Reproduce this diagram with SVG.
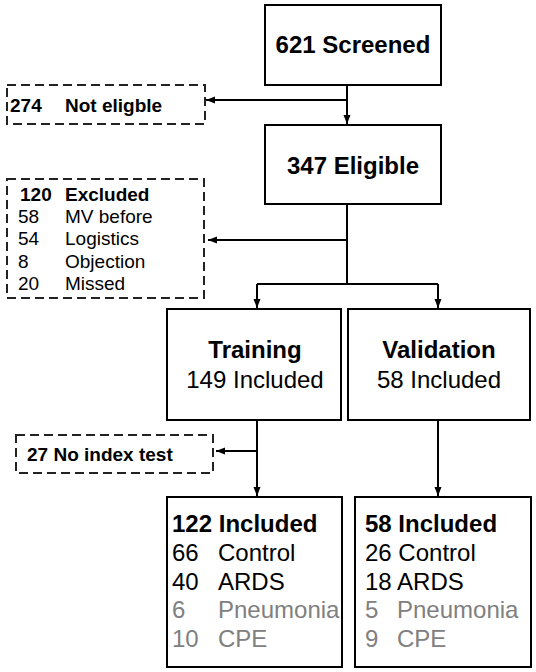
<svg xmlns="http://www.w3.org/2000/svg" width="536" height="672" viewBox="0 0 536 672">
<style>
.box{fill:#fff;stroke:#000;stroke-width:2}
.dbox{fill:#fff;stroke:#222;stroke-width:2;stroke-dasharray:9,5}
.con{fill:none;stroke:#000;stroke-width:2}
text{font-family:"Liberation Sans",Arial,sans-serif;fill:#000}
.t24{font-size:24px}
.t19{font-size:19px}
.b{font-weight:bold}
.g{fill:#808080}
.c{text-anchor:middle}
</style>
<defs>
<marker id="ah" markerUnits="userSpaceOnUse" markerWidth="10" markerHeight="8" refX="9" refY="3.5" orient="auto">
<path d="M0,0 L9,3.5 L0,7 z" fill="#000"/>
</marker>
</defs>
<rect width="536" height="672" fill="#fff"/>
<g id="connectors">
<path class="con" d="M347,85 V124" marker-end="url(#ah)"/>
<path class="con" d="M347,100 H206" marker-end="url(#ah)"/>
<path class="con" d="M347,204 V284"/>
<path class="con" d="M347,240 H208" marker-end="url(#ah)"/>
<path class="con" d="M257,284 H438"/>
<path class="con" d="M257,284 V308" marker-end="url(#ah)"/>
<path class="con" d="M438,284 V308" marker-end="url(#ah)"/>
<path class="con" d="M257,420 V496" marker-end="url(#ah)"/>
<path class="con" d="M257,451 H216" marker-end="url(#ah)"/>
<path class="con" d="M438,420 V496" marker-end="url(#ah)"/>
</g>
<g id="screened">
<rect class="box" x="265" y="5" width="176" height="80"/>
<text class="t24 b c" x="353" y="53">621 Screened</text>
</g>
<g id="not-eligible">
<rect class="dbox" x="7" y="85" width="198" height="39"/>
<text class="t19 b" x="10" y="112">274</text>
<text class="t19 b" x="65" y="112">Not eligble</text>
</g>
<g id="eligible">
<rect class="box" x="265" y="125" width="176" height="79"/>
<text class="t24 b c" x="353" y="174">347 Eligible</text>
</g>
<g id="excluded">
<rect class="dbox" x="7" y="179" width="197" height="119"/>
<text class="t19 b" x="20" y="201">120</text>
<text class="t19 b" x="65" y="201">Excluded</text>
<text class="t19" x="18" y="223">58</text>
<text class="t19" x="65" y="223">MV before</text>
<text class="t19" x="18" y="245">54</text>
<text class="t19" x="65" y="245">Logistics</text>
<text class="t19" x="18" y="268">8</text>
<text class="t19" x="65" y="268">Objection</text>
<text class="t19" x="18" y="290">20</text>
<text class="t19" x="65" y="290">Missed</text>
</g>
<g id="training">
<rect class="box" x="167" y="309" width="174" height="111"/>
<text class="t24 b c" x="255" y="358">Training</text>
<text class="t24 c" x="255" y="388">149 Included</text>
</g>
<g id="validation">
<rect class="box" x="348" y="309" width="182" height="111"/>
<text class="t24 b c" x="439" y="358">Validation</text>
<text class="t24 c" x="439" y="388">58 Included</text>
</g>
<g id="no-index-test">
<rect class="dbox" x="16" y="435" width="197" height="38"/>
<text class="t19 b" x="27" y="461">27 No index test</text>
</g>
<g id="training-included">
<rect class="box" x="167" y="497" width="175" height="170"/>
<text class="t24 b" x="172" y="532">122 Included</text>
<text class="t24" x="172" y="561">66</text>
<text class="t24" x="218" y="561">Control</text>
<text class="t24" x="172" y="590">40</text>
<text class="t24" x="218" y="590">ARDS</text>
<text class="t24 g" x="172" y="618">6</text>
<text class="t24 g" x="218" y="618">Pneumonia</text>
<text class="t24 g" x="172" y="647">10</text>
<text class="t24 g" x="218" y="647">CPE</text>
</g>
<g id="validation-included">
<rect class="box" x="355" y="497" width="176" height="170"/>
<text class="t24 b" x="365" y="532">58 Included</text>
<text class="t24" x="365" y="561">26 Control</text>
<text class="t24" x="365" y="590">18 ARDS</text>
<text class="t24 g" x="365" y="618">5</text>
<text class="t24 g" x="397" y="618">Pneumonia</text>
<text class="t24 g" x="365" y="647">9</text>
<text class="t24 g" x="397" y="647">CPE</text>
</g>
</svg>
